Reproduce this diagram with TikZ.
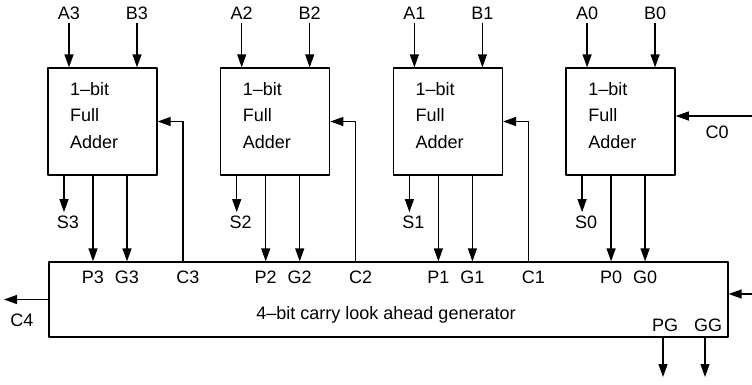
\documentclass[tikz,border=0pt]{standalone}
\usepackage{fontspec}
\setmainfont{Liberation Sans}
\usetikzlibrary{calc,arrows.meta}

\begin{document}
\begin{tikzpicture}[x=1pt,y=-1pt,>={Triangle[length=13pt,width=9pt]},line join=round,
    every node/.style={font=\fontsize{18}{26.5}\selectfont},
    wire/.style={line width=1.3pt},
    fabox/.style={draw,line width=1.3pt,minimum width=109pt,minimum height=107pt,inner sep=0pt}]
  \useasboundingbox (0,0) rectangle (752,384);
  % carry look ahead generator
  \node[fabox,minimum width=679pt,minimum height=75pt] (cla) at (388.5,299.5) {};
  \node (title) at (386,315) {4--bit carry look ahead generator};
  % the four 1-bit full adders, bit 3 on the left
  \foreach \b/\k in {3/0,2/1,1/2,0/3}{
    \pgfmathsetmacro\xl{48+172.7*\k}
    \node[fabox] (fa\b) at (\xl+54.5,121.5) {};
    \node[align=left,anchor=north west,inner sep=0pt] (txt\b) at (\xl+22,82) {1--bit\\Full\\Adder};
    % operand inputs
    \node (a\b) at (\xl+21,13) {A\b};
    \node (b\b) at (\xl+89,13) {B\b};
    \draw[wire,->] (a\b) -- (a\b |- fa\b.north);
    \draw[wire,->] (b\b) -- (b\b |- fa\b.north);
    % sum output
    \coordinate (sx\b) at (\xl+16,175);
    \node (s\b) at (\xl+20,222) {S\b};
    \draw[wire,->] (sx\b) -- (sx\b |- s\b.north);
    % propagate and generate into the generator
    \node (p\b) at (\xl+45,277) {P\b};
    \node (g\b) at (\xl+79,277) {G\b};
    \draw[wire,->] (p\b |- fa\b.south) -- (p\b |- cla.north);
    \draw[wire,->] (g\b |- fa\b.south) -- (g\b |- cla.north);
  }
  % carries back from the generator
  \foreach \b/\k in {3/0,2/1,1/2}{
    \pgfmathsetmacro\xl{48+172.7*\k}
    \coordinate (cw\b) at (\xl+135,262);
    \node (c\b) at (\xl+140,277) {C\b};
    \draw[wire,->] (cw\b) |- (fa\b.east);
  }
  \coordinate (c0in) at (752,116);
  \node (c0) at (717,132) {C0};
  \draw[wire,->] (c0in) -- (c0in -| fa0.east);
  % generator in and outs
  \coordinate (c4out) at (4,299.5);
  \node (c4) at (22,320) {C4};
  \draw[wire,->] (cla.west) -- (c4out);
  \coordinate (clain) at (752,294);
  \draw[wire,->] (clain) -- (clain -| cla.east);
  \node (pg) at (665,325) {PG};
  \node (gg) at (708,325) {GG};
  \coordinate (pgout) at (663,377);
  \coordinate (ggout) at (705,377);
  \draw[wire,->] (pgout |- cla.south) -- (pgout);
  \draw[wire,->] (ggout |- cla.south) -- (ggout);
\end{tikzpicture}
\end{document}
